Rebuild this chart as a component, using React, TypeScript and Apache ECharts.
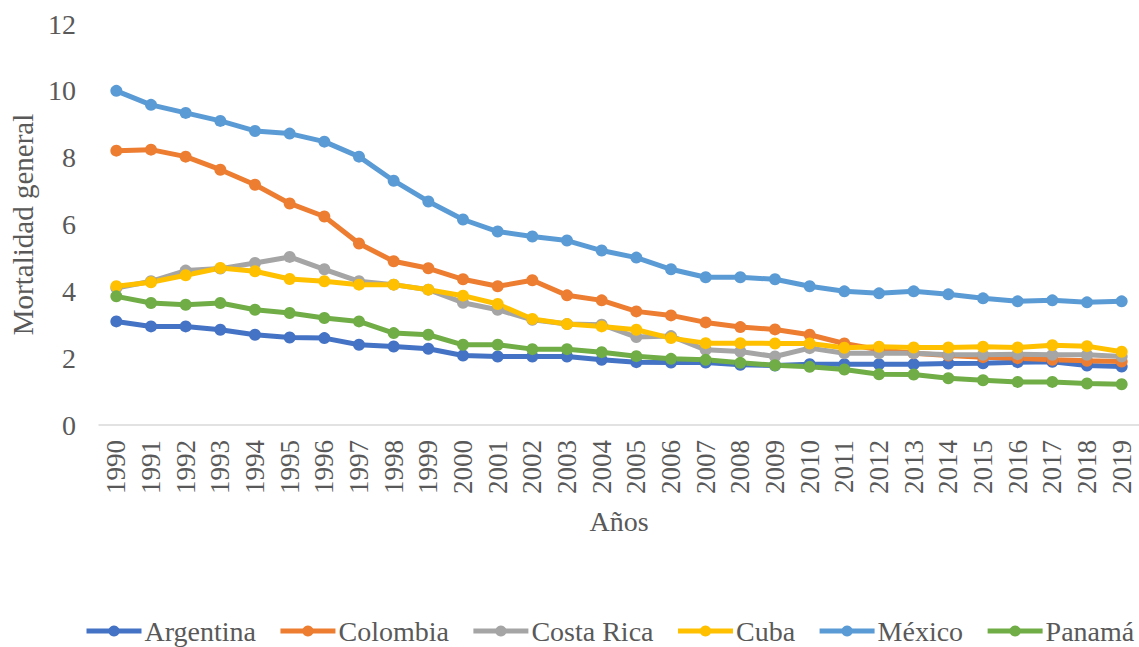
import React, { useEffect, useRef } from "react";
import * as echarts from "echarts";

const years = ["1990","1991","1992","1993","1994","1995","1996","1997","1998","1999","2000","2001","2002","2003","2004","2005","2006","2007","2008","2009","2010","2011","2012","2013","2014","2015","2016","2017","2018","2019"];

const argentina = [3.1,2.95,2.95,2.85,2.7,2.62,2.6,2.4,2.35,2.28,2.08,2.05,2.05,2.05,1.95,1.88,1.87,1.87,1.8,1.78,1.82,1.82,1.82,1.82,1.84,1.85,1.88,1.89,1.78,1.75];
const colombia = [8.21,8.24,8.03,7.64,7.19,6.63,6.24,5.43,4.9,4.69,4.36,4.15,4.33,3.88,3.73,3.4,3.28,3.07,2.93,2.86,2.7,2.44,2.25,2.15,2.08,2.03,2.0,1.95,1.92,1.9];
const costaRica = [4.1,4.3,4.62,4.68,4.85,5.03,4.66,4.3,4.2,4.05,3.66,3.45,3.15,3.02,3.0,2.63,2.66,2.25,2.2,2.05,2.3,2.15,2.15,2.15,2.1,2.1,2.12,2.1,2.1,2.05];
const cuba = [4.15,4.27,4.48,4.7,4.6,4.37,4.3,4.2,4.2,4.05,3.87,3.62,3.17,3.02,2.95,2.85,2.6,2.45,2.45,2.44,2.44,2.31,2.34,2.32,2.32,2.34,2.32,2.39,2.36,2.19];
const mexico = [10.0,9.58,9.34,9.1,8.8,8.72,8.48,8.03,7.31,6.69,6.15,5.79,5.64,5.52,5.22,5.01,4.66,4.42,4.42,4.36,4.15,4.0,3.94,4.0,3.91,3.79,3.7,3.73,3.67,3.7];
const panama = [3.85,3.65,3.6,3.65,3.45,3.35,3.2,3.1,2.75,2.7,2.4,2.4,2.27,2.27,2.18,2.06,1.98,1.95,1.86,1.79,1.74,1.66,1.52,1.51,1.4,1.34,1.29,1.29,1.24,1.22];

const seriesDefs = [
  { name: "Argentina", data: argentina, color: "#4472C4" },
  { name: "Colombia", data: colombia, color: "#ED7D31" },
  { name: "Costa Rica", data: costaRica, color: "#A5A5A5" },
  { name: "Cuba", data: cuba, color: "#FFC000" },
  { name: "México", data: mexico, color: "#5B9BD5" },
  { name: "Panamá", data: panama, color: "#70AD47" },
];

const FONT = "Liberation Serif";
const TXT = "#595959";

export default function App() {
  const ref = useRef<HTMLDivElement>(null);
  useEffect(() => {
    if (!ref.current) return;
    const chart = echarts.init(ref.current, null, { renderer: "svg" });
    chart.setOption({
      animation: false,
      backgroundColor: "#ffffff",
      grid: { left: 96, top: 24, width: 1046, height: 401, containLabel: false },
      legend: {
        top: 617,
        left: 84,
        width: 1200,
        itemWidth: 55,
        itemHeight: 14,
        itemGap: 22,
        padding: 0,
        lineStyle: { width: 5 },
        textStyle: { fontFamily: FONT, fontSize: 28, lineHeight: 28, color: TXT, padding: [0, 0, 0, -2] },
        data: seriesDefs.map((s) => s.name),
      },
      xAxis: {
        type: "category",
        data: years,
        boundaryGap: true,
        name: "Años",
        nameLocation: "middle",
        nameGap: 82,
        nameTextStyle: { fontFamily: FONT, fontSize: 28, color: TXT },
        axisLine: { lineStyle: { color: "#D9D9D9", width: 1.5 } },
        axisTick: { show: false },
        axisLabel: { rotate: 90, fontFamily: FONT, fontSize: 27, color: TXT, margin: 15, interval: 0 },
      },
      yAxis: {
        type: "value",
        min: 0,
        max: 12,
        interval: 2,
        name: "Mortalidad general",
        nameLocation: "middle",
        nameGap: 62,
        nameTextStyle: { fontFamily: FONT, fontSize: 29, color: TXT },
        axisLine: { show: false },
        axisTick: { show: false },
        splitLine: { show: false },
        axisLabel: { fontFamily: FONT, fontSize: 28, color: TXT, margin: 23 },
      },
      series: seriesDefs.map((s) => ({
        name: s.name,
        type: "line",
        data: s.data,
        symbol: "circle",
        symbolSize: 12,
        showSymbol: true,
        lineStyle: { color: s.color, width: 5 },
        itemStyle: { color: s.color },
      })),
    });
    return () => chart.dispose();
  }, []);
  return (
    <div
      ref={ref}
      style={{ position: "fixed", left: 0, top: 0, width: 1139, height: 647 }}
    />
  );
}
